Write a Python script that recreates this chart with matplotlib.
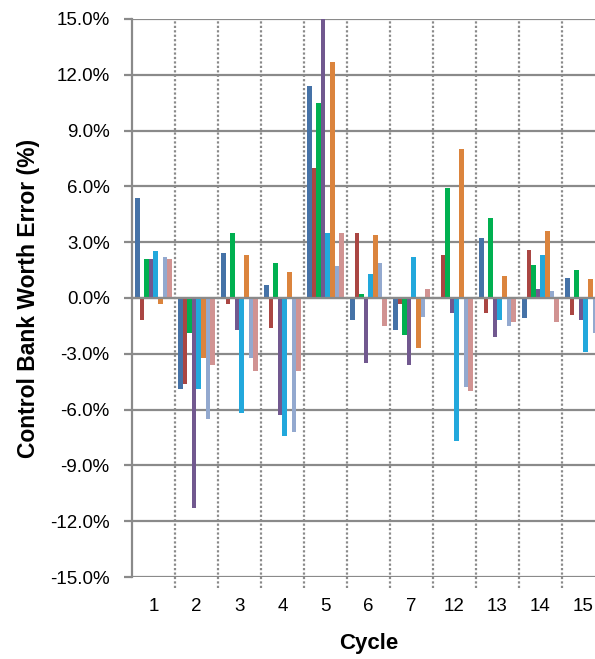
import matplotlib
matplotlib.use('Agg')

import matplotlib.pyplot as plt
import numpy as np

plt.rcParams['font.family'] = ['Liberation Sans', 'DejaVu Sans']

cycles = ['1', '2', '3', '4', '5', '6', '7', '12', '13', '14', '15']

# control bank worth error (%) per cycle, one list per bank
bank_a = [5.4, -4.9, 2.4, 0.7, 11.4, -1.2, -1.7, 0.05, 3.2, -1.1, 1.1]
bank_b = [-1.2, -4.6, -0.3, -1.6, 7.0, 3.5, -0.3, 2.3, -0.8, 2.6, -0.9]
bank_c = [2.1, -1.9, 3.5, 1.9, 10.5, 0.2, -2.0, 5.9, 4.3, 1.8, 1.5]
bank_d = [2.1, -11.3, -1.7, -6.3, 15.0, -3.5, -3.6, -0.8, -2.1, 0.5, -1.2]
bank_sa = [2.5, -4.9, -6.2, -7.4, 3.5, 1.3, 2.2, -7.7, -1.2, 2.3, -2.9]
bank_sb = [-0.3, -3.2, 2.3, 1.4, 12.7, 3.4, -2.7, 8.0, 1.2, 3.6, 1.0]
bank_sc = [2.2, -6.5, -3.2, -7.2, 1.7, 1.9, -1.0, -4.8, -1.5, 0.4, -1.9]
bank_sd = [2.1, -3.6, -3.9, -3.9, 3.5, -1.5, 0.5, -5.0, -1.3, -1.3, -1.3]

series = [bank_a, bank_b, bank_c, bank_d, bank_sa, bank_sb, bank_sc, bank_sd]
colors = ['#4572A7', '#AA4643', '#00B050', '#71588F',
          '#22A8DC', '#DB843D', '#93A9CF', '#D19392']

fig = plt.figure(figsize=(5.95, 6.59), dpi=100)
# the last group runs past the right edge of the canvas
ax = fig.add_axes([0.2218, 0.1244, 0.795, 0.8468])

x = np.arange(len(cycles))
w = 0.106
for k, (vals, c) in enumerate(zip(series, colors)):
    ax.bar(x + (k - 3.5) * w, vals, width=w, color=c, zorder=3)

ax.set_xlim(-0.5, len(cycles) - 0.5)
ax.set_ylim(-15, 15)
ax.set_yticks(np.arange(-15, 15.1, 3))
ax.set_yticklabels(['%.1f%%' % v for v in np.arange(-15, 15.1, 3)])

grid_c = '#8A8A8A'
ax.grid(axis='y', color=grid_c, linewidth=1.6, zorder=1)
ax.axhline(0, color=grid_c, linewidth=1.6, zorder=4)
for b in np.arange(0.5, len(cycles) - 0.5, 1):
    ax.plot([b, b], [-15.6, 15], color=grid_c, linewidth=1.6,
            linestyle=(0, (1, 1)), zorder=2, clip_on=False)

for s in ['top', 'right', 'bottom']:
    ax.spines[s].set_visible(False)
ax.spines['left'].set_color(grid_c)
ax.spines['left'].set_linewidth(1.6)

ax.set_xticks(x)
ax.set_xticklabels(cycles)
ax.tick_params(axis='x', length=0, pad=15, labelsize=13.5)
ax.tick_params(axis='y', direction='out', length=6, width=1.6, color=grid_c,
               pad=10, labelsize=13.5)

ax.set_ylabel('Control Bank Worth Error (%)', fontsize=16.5, fontweight='bold',
              labelpad=7)
ax.set_xlabel('Cycle', fontsize=16, fontweight='bold', labelpad=13)

fig.savefig('out.png', dpi=100)
